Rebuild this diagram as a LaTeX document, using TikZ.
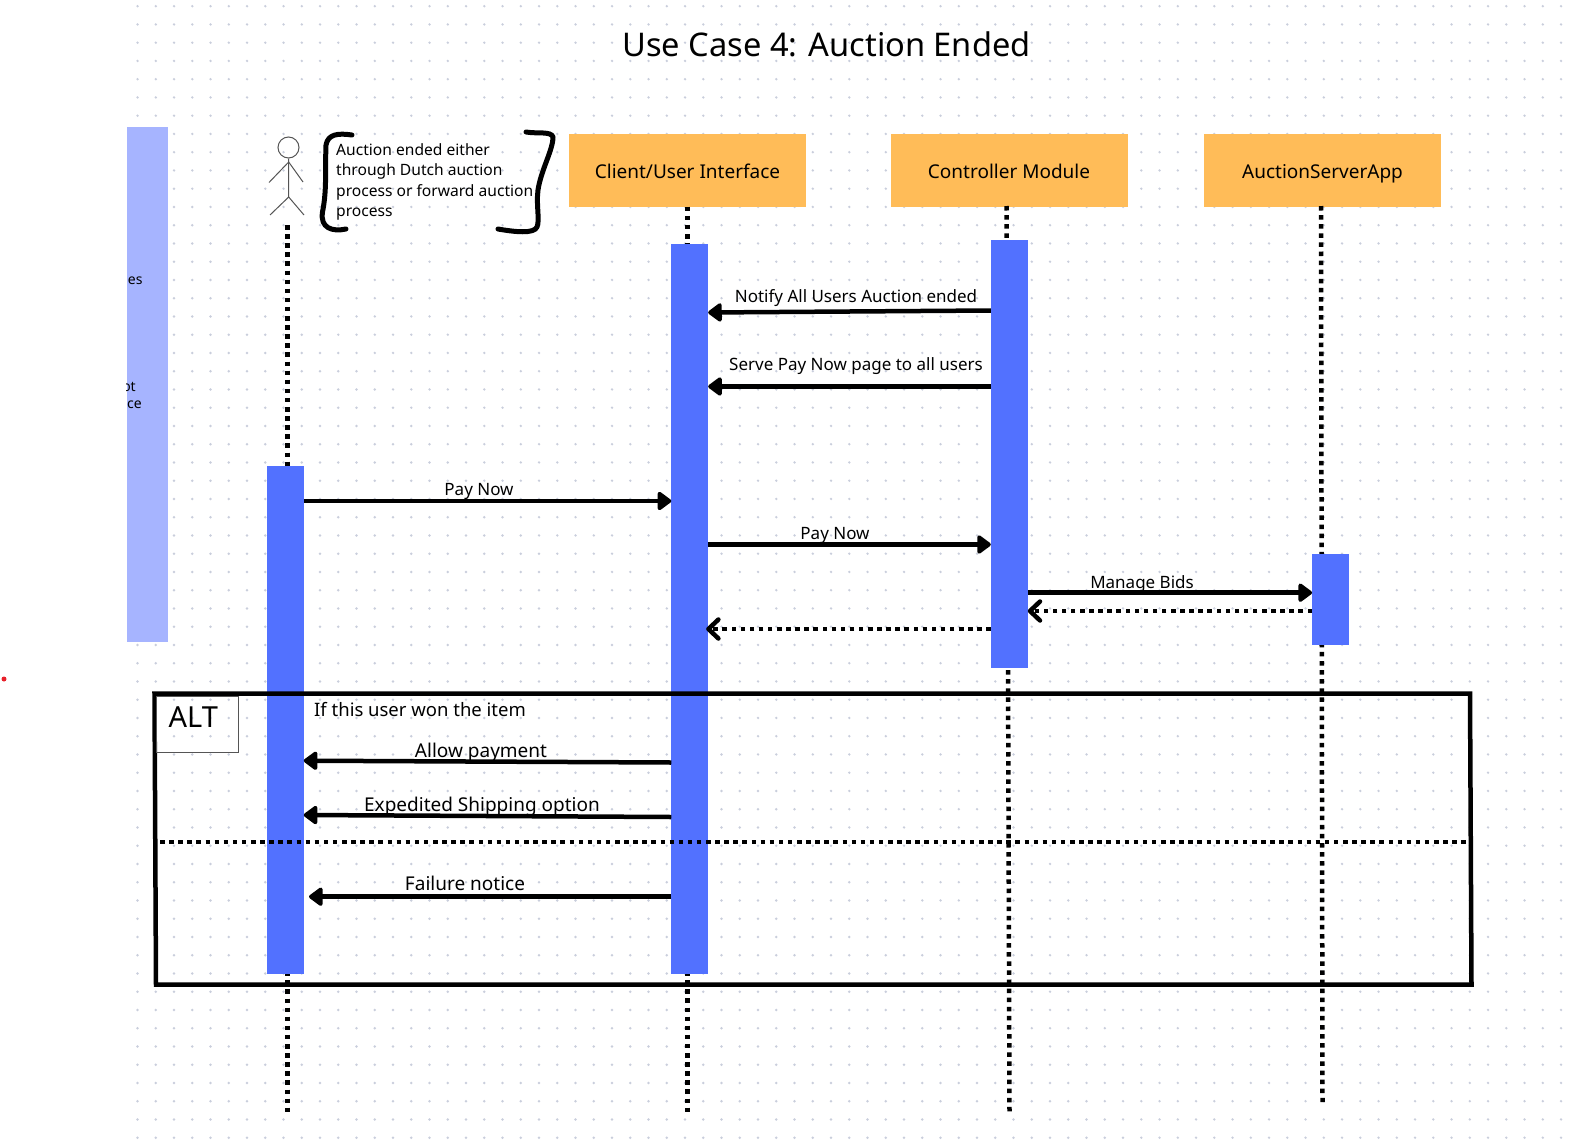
\documentclass[tikz,border=0pt]{standalone}
\usepackage{fontspec}
\setmainfont{Noto Sans}
\definecolor{GridDot}{HTML}{C9CEDC}
\definecolor{PaleBar}{HTML}{A6B4FF}
\definecolor{LifeBar}{HTML}{5271FF}
\definecolor{HeadOrange}{HTML}{FFBC58}
\definecolor{ActorGray}{HTML}{555555}
\definecolor{MarkRed}{HTML}{E8202A}
\usetikzlibrary{arrows.meta, positioning}

\begin{document}
\begin{tikzpicture}[x=1pt, y=-1pt,
    headbox/.style={fill=HeadOrange, minimum width=237pt, minimum height=73pt, inner sep=0pt, text height=20pt, text depth=4pt, font=\fontsize{19}{23}\selectfont},
    barbox/.style={fill=LifeBar, minimum width=36.5pt, inner sep=0pt},
    lifeline/.style={line width=4.5pt, dash pattern=on 4.5pt off 4.6pt},
    msg/.style={line width=4.5pt, -{Triangle[round, length=15pt, width=21pt]}},
    reply/.style={line width=4.5pt, dash pattern=on 4.5pt off 4.6pt, -{Straight Barb[round, length=10pt, width=19pt]}},
    msglabel/.style={font=\fontsize{17}{20}\selectfont, inner sep=0pt},
    altlabel/.style={font=\fontsize{19}{23}\selectfont, inner sep=0pt},
    edgetext/.style={font=\fontsize{14}{17}\selectfont, inner sep=0pt}]
  \useasboundingbox (0,0) rectangle (1575,1143);
  \fill[white] (0,0) rectangle (1575,1143);
  \foreach \i in {0,...,78}
    \foreach \j in {0,...,62}
      \fill[GridDot] (137.5+\i*18.25, 6.2+\j*18.25) circle (1.3);

  \node[font=\fontsize{32.6}{40}\selectfont, inner sep=0pt] (title) at (826.5,44) {Use Case 4: Auction Ended};

  % side panel
  \node[fill=PaleBar, minimum width=41pt, minimum height=515pt, inner sep=0pt] (panel) at (147.5,384.5) {};
  \begin{scope}
    \clip (panel.north west) rectangle (panel.south east);
    \node[edgetext, anchor=east] (panelA) at (142.8,280.5) {es};
    \node[edgetext, anchor=east] (panelB) at (136,387) {ot};
    \node[edgetext, anchor=east] (panelC) at (142,405) {ce};
  \end{scope}

  % actor
  \node[draw=ActorGray, circle, minimum size=21pt, inner sep=0pt, line width=1pt] (head) at (288.5,147.5) {};
  \coordinate (hip) at (288.7,197);
  \draw[ActorGray, line width=1pt] (head.south) -- (hip);
  \draw[ActorGray, line width=1pt] (269,182.5) -- (288.7,162) -- (303,182);
  \draw[ActorGray, line width=1pt] (270,215) -- (hip) -- (304,215);

  % note with hand drawn brackets
  \node[font=\fontsize{15.6}{20.4}\selectfont, align=left, anchor=north west, inner sep=0pt] (note) at (336,143.5)
    {Auction ended either\\through Dutch auction\\process or forward auction\\process};
  \draw[line width=5pt, line cap=round, line join=round] (352,135) .. controls (338,133) and (328,134) .. (326,145) .. controls (325,170) and (327,190) .. (322.5,212) .. controls (320,228) and (332,232) .. (346,229);
  \draw[line width=5pt, line cap=round, line join=round] (526,132) .. controls (538,134) and (551,131) .. (553,137) .. controls (553,150) and (541,170) .. (538,190) .. controls (536,205) and (540,220) .. (537,227) .. controls (534,234) and (515,232) .. (498,229);

  \node[headbox] (client) at (687.5,170) {Client/User Interface};
  \node[headbox] (ctrl) at (1009,170) {Controller Module};
  \node[headbox] (server) at (1322.5,170) {AuctionServerApp};

  \coordinate (userTop) at (287.5,225);
  \coordinate (userEnd) at (287.5,1112);
  \coordinate (clientEnd) at (687.5,1112);
  \coordinate (ctrlEnd) at (1009.5,1112);
  \coordinate (serverEnd) at (1322.5,1102);

  \draw[lifeline] (userTop) -- (userEnd);
  \draw[lifeline] (client.south) -- (clientEnd);
  \draw[lifeline] (1006.5,206) -- (ctrlEnd);
  \draw[lifeline] (1321,206) -- (serverEnd);

  \node[barbox, minimum height=508pt] (userbar) at (285.3,720) {};
  \node[barbox, minimum height=730pt] (clientbar) at (689.7,609) {};
  \node[barbox, minimum height=428pt] (ctrlbar) at (1009.3,454) {};
  \node[barbox, minimum height=91pt] (serverbar) at (1330.5,599.5) {};

  \draw[msg] (ctrlbar.west |- 0,310.5) -- (clientbar.east |- 0,312.5);
  \node[msglabel] (notify) at (856,298) {Notify All Users Auction ended};
  \draw[msg] (ctrlbar.west |- 0,386.5) -- (clientbar.east |- 0,386.5);
  \node[msglabel] (serve) at (856,366) {Serve Pay Now page to all users};
  \draw[msg] (userbar.east |- 0,501) -- (clientbar.west |- 0,501);
  \node[msglabel] (paya) at (479,491.5) {Pay Now};
  \draw[msg] (clientbar.east |- 0,544.5) -- (ctrlbar.west |- 0,544.5);
  \node[msglabel] (payb) at (835,535.5) {Pay Now};
  \draw[msg] (ctrlbar.east |- 0,592.7) -- (serverbar.west |- 0,592.7);
  \node[msglabel] (bids) at (1142,584) {Manage Bids};
  \draw[reply] (serverbar.west |- 0,611) -- (ctrlbar.east |- 0,611);
  \draw[reply, shorten >=-2pt] (ctrlbar.west |- 0,629) -- (clientbar.east |- 0,629);

  % alt frame
  \coordinate (frameA) at (154.5,693.5);
  \coordinate (frameB) at (1470,693.5);
  \coordinate (frameC) at (1471.5,984.7);
  \coordinate (frameD) at (156,984.7);
  \draw[line width=4.5pt, line join=miter] (frameA) -- (frameB) -- (frameC) -- (frameD) -- cycle;
  \draw[lifeline] (160,842) -- (1470,842);
  \node[draw=ActorGray, line width=1pt, minimum width=82pt, minimum height=56pt, inner sep=0pt, anchor=north west] (altbox) at (156,695.5) {};
  \node[font=\fontsize{29}{35}\selectfont, inner sep=0pt, anchor=west] (alt) at (168.5,717) {ALT};
  \node[altlabel, anchor=west, font=\fontsize{18.5}{23}\selectfont] (won) at (314,710) {If this user won the item};

  \draw[msg] (clientbar.west |- 0,762.5) -- (userbar.east |- 0,760.7);
  \node[altlabel] (allow) at (481,753) {Allow payment};
  \draw[msg] (clientbar.west |- 0,817) -- (userbar.east |- 0,815);
  \node[altlabel] (ship) at (482,807) {Expedited Shipping option};
  \coordinate (failEnd) at (309,896.7);
  \draw[msg] (clientbar.west |- failEnd) -- (failEnd);
  \node[altlabel] (fail) at (465,883) {Failure notice};

  \fill[MarkRed] (4,679) circle (2.5);
\end{tikzpicture}
\end{document}
